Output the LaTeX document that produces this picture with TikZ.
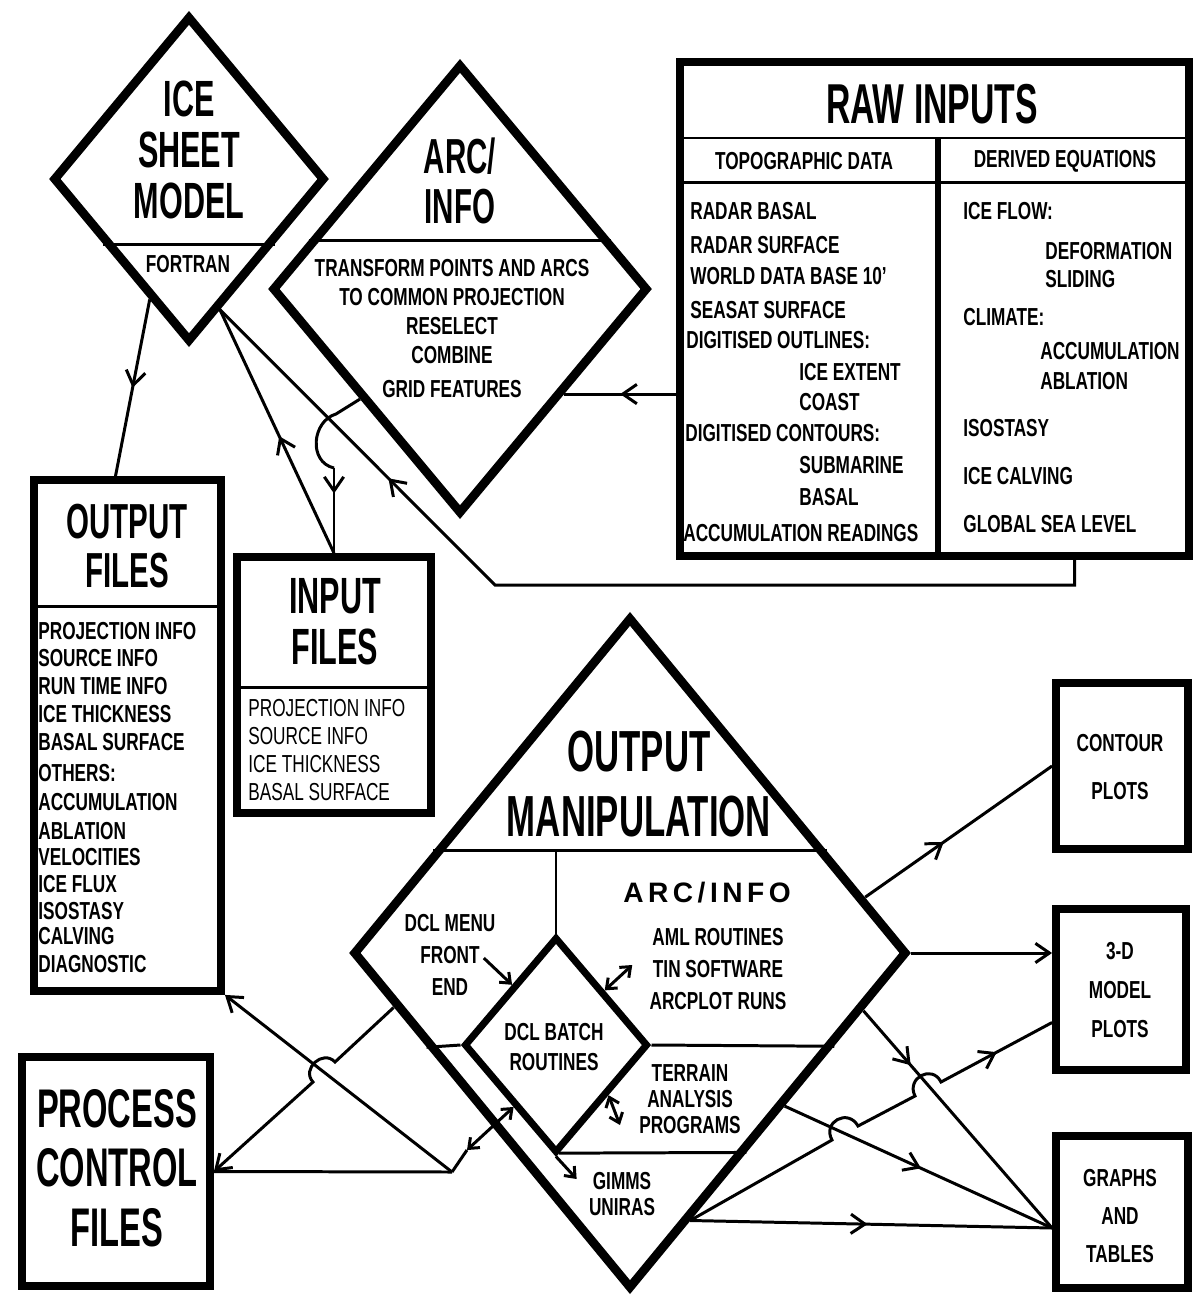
\documentclass[tikz,border=0pt]{standalone}
\usepackage{fontspec}
\setmainfont{Liberation Sans}[FakeStretch=0.7]
\newfontfamily\titlefont{Liberation Sans}[FakeStretch=0.6]
\newfontfamily\spacedfont{Liberation Sans}[LetterSpace=16]
\usetikzlibrary{arrows.meta,calc,shapes.geometric,decorations.markings}

\tikzset{
  filebox/.style={draw, line width=4.5pt, inner sep=0pt},
  dmd/.style={draw, diamond, line width=5pt, inner sep=0pt},
  ttl/.style 2 args={align=center, inner sep=0pt, font=\titlefont\bfseries\fontsize{#1}{#2}\selectfont},
  lbl/.style={align=center, inner sep=0pt, font=\bfseries\fontsize{14}{#1}\selectfont},
  itm/.style={anchor=west, inner sep=0pt, font=\bfseries\fontsize{14}{14}\selectfont},
  itmr/.style={itm, font=\fontsize{14}{14}\selectfont},
  ln/.style={line width=1.7pt},
  sep/.style={line width=1.7pt},
  midarrow/.style={ln, postaction={decorate},
    decoration={markings, mark=at position #1 with {\arrow{>}}}},
  midarrow/.default=0.5,
  toarrow/.style={ln, ->},
  twoarrow/.style={ln, <->},
  small/.style={>={Straight Barb[length=5pt,width=8pt]}}
}

\begin{document}
\begin{tikzpicture}[x=0.02cm, y=-0.02cm, >={Straight Barb[length=8pt,width=11pt]}]

\fill[white] (0,0) rectangle (1198,1299);
\useasboundingbox (0,0) rectangle (1198,1299);

% ---- diamonds
\node[dmd, minimum width=5.44cm, minimum height=6.52cm] (ice) at (189,179) {};
\node[dmd, minimum width=7.52cm, minimum height=9cm] (arc) at (460,289) {};
\node[dmd, minimum width=11.08cm, minimum height=13.44cm] (om) at (630,953) {};
\node[dmd, line width=4pt, minimum width=3.68cm, minimum height=4.32cm] (batch) at (556,1045) {};

% ice sheet model
\node[ttl={29}{29}] (icet) at (189,150) {ICE\\SHEET\\MODEL};
\draw[sep] ($(ice.west)!0.39!(ice.south)$) -- ($(ice.east)!0.39!(ice.south)$);
\node[lbl=14] (fortran) at (188,264) {FORTRAN};

% arc/info
\node[ttl={28}{28}] (arct) at (460,181) {ARC/\\INFO};
\draw[sep] ($(arc.north)!0.787!(arc.west)$) -- ($(arc.north)!0.787!(arc.east)$);
\node[lbl=16.5, anchor=north] (arcl) at (452,259)
  {TRANSFORM POINTS AND ARCS\\TO COMMON PROJECTION\\RESELECT\\COMBINE\\[3pt]GRID FEATURES};

% ---- raw inputs
\node[filebox, minimum width=10.18cm, minimum height=9.88cm] (raw) at (934.5,309) {};
\node[ttl={32}{32}] (rawt) at (932,104) {RAW INPUTS};
\draw[sep] (raw.west |- 0,138) -- (raw.east |- 0,138);
\draw[sep] (raw.west |- 0,182) -- (raw.east |- 0,182);
\draw[line width=3.5pt] (938,138) -- (938,556);
\node[lbl=14] (topo) at (804,161) {TOPOGRAPHIC DATA};
\node[lbl=14] (deriv) at (1065,161) {DERIVED EQUATIONS};
\foreach \x/\y/\txt [count=\i] in {690/211/RADAR BASAL, 690/245/RADAR SURFACE,
    690/276/WORLD DATA BASE 10', 690/310/SEASAT SURFACE, 686/340/DIGITISED OUTLINES:,
    799/372/ICE EXTENT, 799/402/COAST, 685/433/DIGITISED CONTOURS:, 799/465/SUBMARINE,
    799/497/BASAL, 683/533/ACCUMULATION READINGS}
  \node[itm] (topo\i) at (\x,\y) {\txt};
\foreach \x/\y/\txt [count=\i] in {963/211/ICE FLOW:, 1045/251/DEFORMATION, 1045/279/SLIDING,
    963/317/CLIMATE:, 1040/351/ACCUMULATION, 1040/381/ABLATION, 963/428/ISOSTASY,
    963/476/ICE CALVING, 963/524/GLOBAL SEA LEVEL}
  \node[itm] (deq\i) at (\x,\y) {\txt};

% ---- output files
\node[filebox, minimum width=3.74cm, minimum height=10.22cm] (ofiles) at (127.5,735.5) {};
\node[ttl={28}{28}] (oft) at (127,546) {OUTPUT\\FILES};
\draw[sep] (ofiles.west |- 0,606) -- (ofiles.east |- 0,606);
\foreach \y/\txt [count=\i] in {631/PROJECTION INFO, 658/SOURCE INFO, 686/RUN TIME INFO,
    714/ICE THICKNESS, 742/BASAL SURFACE, 773/OTHERS:, 802/ACCUMULATION, 831/ABLATION,
    857/VELOCITIES, 884/ICE FLUX, 911/ISOSTASY, 936/CALVING, 964/DIAGNOSTIC}
  \node[itm] (of\i) at (38,\y) {\txt};

% ---- input files
\node[filebox, minimum width=3.88cm, minimum height=5.12cm] (ifiles) at (334,685) {};
\node[ttl={29}{29}] (ift) at (335,622) {INPUT\\FILES};
\draw[sep] (ifiles.west |- 0,687) -- (ifiles.east |- 0,687);
\foreach \y/\txt [count=\i] in {708/PROJECTION INFO, 736/SOURCE INFO, 764/ICE THICKNESS, 792/BASAL SURFACE}
  \node[itmr] (if\i) at (248,\y) {\txt};

% ---- process control files
\node[filebox, minimum width=3.76cm, minimum height=4.58cm] (pcf) at (116,1171.5) {};
\node[ttl={31}{34}] (pcft) at (117,1168) {PROCESS\\CONTROL\\FILES};

% ---- products
\node[filebox, minimum width=2.64cm, minimum height=3.32cm] (contour) at (1122,766) {};
\node[lbl=27] (contourt) at (1120,767) {CONTOUR\\PLOTS};
\node[filebox, minimum width=2.6cm, minimum height=3.22cm] (tdbox) at (1121,989.5) {};
\node[lbl=22] (tdt) at (1120,990) {3-D\\MODEL\\PLOTS};
\node[filebox, minimum width=2.64cm, minimum height=3.04cm] (graphs) at (1122,1212) {};
\node[lbl=21.5] (grt) at (1120,1216) {GRAPHS\\AND\\TABLES};

% ---- output manipulation
\node[ttl={33}{37}] (omt) at (639,784) {OUTPUT\\MANIPULATION};
\coordinate (omdl) at ($(om.north)!0.70!(om.west)$);
\coordinate (omdr) at ($(om.north)!0.70!(om.east)$);
\draw[sep] (omdl) -- (omdr);
\draw[sep] (batch.north) -- (batch.north |- omdl);
\draw[sep] ($(om.west)!0.277!(om.south)$) -- (batch.west);
\draw[sep] (batch.east) -- ($(om.east)!0.274!(om.south)$);
\draw[sep] ($(batch.east)!0.97!(batch.south)$) -- ($(om.east)!0.586!(om.south)$);
\node[inner sep=0pt, font=\spacedfont\bfseries\fontsize{16}{16}\selectfont] (omarc) at (707,893) {ARC/INFO};
\node[lbl=18.4] (aml) at (718,969) {AML ROUTINES\\TIN SOFTWARE\\ARCPLOT RUNS};
\node[lbl=18.4] (dclm) at (450,955) {DCL MENU\\FRONT\\END};
\node[lbl=17] (dclb) at (554,1047) {DCL BATCH\\ROUTINES};
\node[lbl=14.7] (terr) at (690,1099) {TERRAIN\\ANALYSIS\\PROGRAMS};
\node[lbl=15.3] (gimms) at (622,1194) {GIMMS\\UNIRAS};

\draw[toarrow, small] ($(dclm.east)+(-12,3)$) -- ($(batch.north)!0.46!(batch.west)$);
\draw[twoarrow, small] ($(batch.north)!0.51!(batch.east)$) -- ($(aml.west)+(-17,-4)$);
\draw[twoarrow, small] ($(batch.east)!0.45!(batch.south)$) -- ($(terr.west)+(-19,26)$);
\draw[toarrow, small] (batch.south) -- ($(gimms.west)+(-12,-15)$);

% ---- connectors, top half
\draw[midarrow] ($(ice.west)!0.72!(ice.south)$) -- ($(ofiles.north)+(-12,0)$);
\coordinate (icein) at ($(ice.east)!0.78!(ice.south)$);
\draw[midarrow=0.48] (ifiles.north) -- (icein);
\coordinate (rawbend) at (495,585);
\draw[midarrow=0.76] ($(raw.south)+(140,0)$) |- (rawbend) -- (icein);
\coordinate (arcout) at ($(arc.west)!0.48!(arc.south)$);
\coordinate (hopend) at (334,468);
\draw[ln] (arcout) -- (336,414) .. controls (312,421) and (308,462) .. (hopend);
\draw[midarrow=0.3] (hopend) -- (ifiles.north);
\coordinate (arcin) at ($(arc.east)!0.458!(arc.south)$);
\draw[midarrow] (raw.west |- arcin) -- (arcin);

% ---- connectors, products
\draw[midarrow=0.42] ($(om.north)!0.836!(om.east)$) -- (contour.west);
\draw[toarrow] (om.east) -- (om.east -| tdbox.west);
\coordinate (gin) at ($(graphs.west)+(0,16)$);
\draw[midarrow=0.25] ($(om.east)!0.17!(om.south)$) -- (gin);
\draw[midarrow=0.51] ($(om.east)!0.45!(om.south)$) -- (gin);
\coordinate (omlow) at ($(om.east)!0.786!(om.south)$);
\draw[midarrow=0.49] (omlow) -- (gin);
\draw[midarrow=0.86] (omlow) -- (832,1140) .. controls (822,1122) and (848,1108) .. (858,1126)
  -- (915,1096) .. controls (906,1078) and (932,1064) .. (941,1082) -- ($(tdbox.west)+(0,33)$);

% ---- connectors, process control
\coordinate (pjoin) at (452,1172);
\coordinate (pj2) at (467,1150);
\draw[toarrow] (pjoin) -- (ofiles.south east);
\draw[ln] (pjoin) -- (pcf.east);
\draw[ln] (pjoin) -- (pj2);
\draw[twoarrow, small] (pj2) -- ($(batch.west)!0.556!(batch.south)$);
\draw[toarrow] ($(om.west)!0.16!(om.south)$) -- (335,1062) .. controls (323,1049) and (301,1069) .. (313,1082) -- (pcf.east);

\end{tikzpicture}
\end{document}
